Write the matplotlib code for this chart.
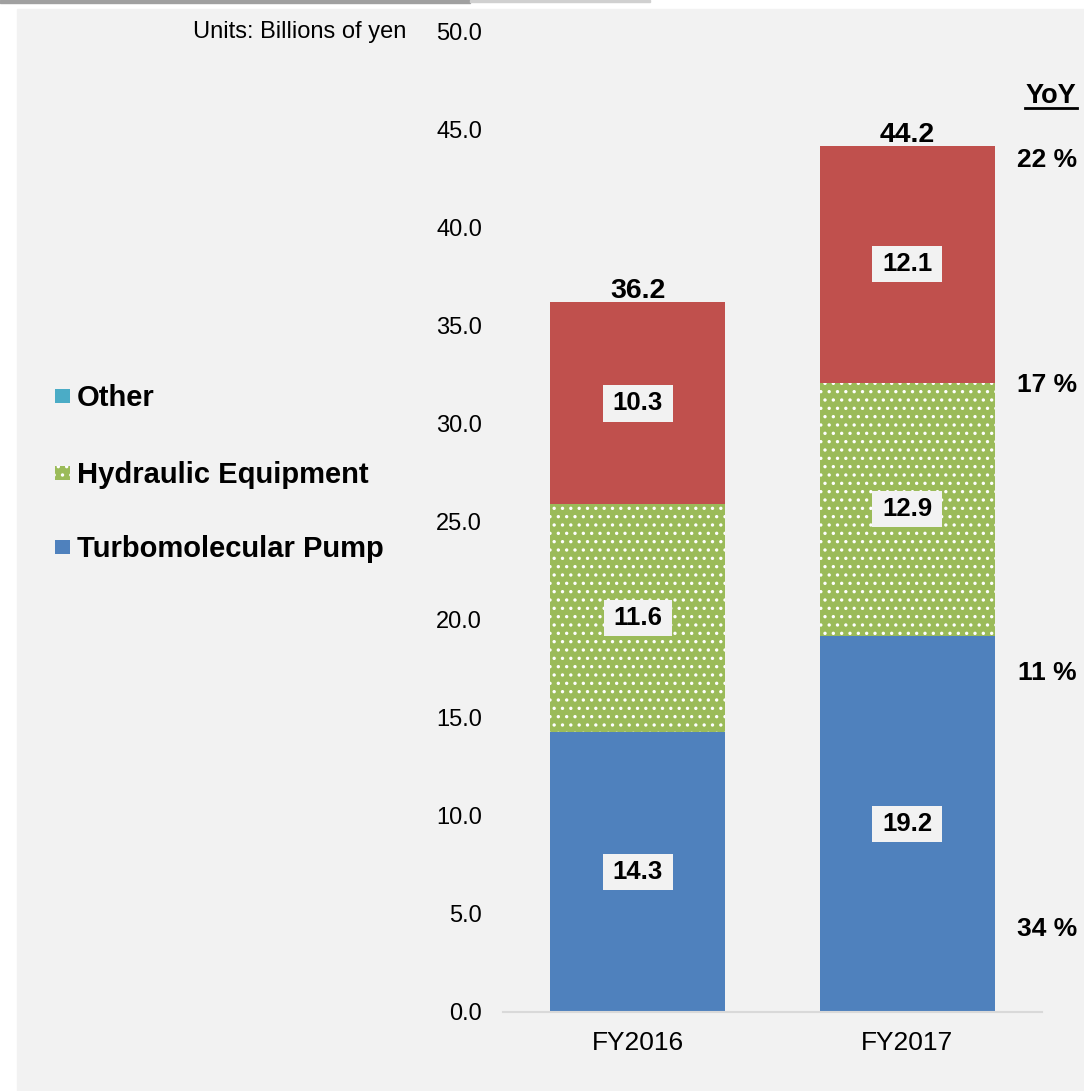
import matplotlib.pyplot as plt
from matplotlib.patches import Rectangle
from matplotlib.path import Path

plt.rcParams['font.family'] = ['Liberation Sans', 'DejaVu Sans']
plt.rcParams['hatch.linewidth'] = 1.2

years = ['FY2016', 'FY2017']
turbo = [14.3, 19.2]
hydraulic = [11.6, 12.9]
upper = [10.3, 12.1]
yoy = ['34 %', '11 %', '17 %', '22 %']
legend_names = ['Other', 'Hydraulic Equipment', 'Turbomolecular Pump']
yticks = [0, 5, 10, 15, 20, 25, 30, 35, 40, 45, 50]

BLUE = '#4f81bd'
GREEN = '#9bbb59'
RED = '#c0504d'
TEAL = '#4bacc6'
BG = '#f2f2f2'

W, H = 1084, 1091
fig = plt.figure(figsize=(W / 100, H / 100), dpi=100)
fig.patch.set_facecolor('white')


def fx(px):
    return px / W


def fy(py):
    return 1 - py / H


# grey panel + scan smudge at the very top
fig.patches.append(Rectangle((fx(17), 0), 1, fy(9), transform=fig.transFigure,
                             color=BG, zorder=-10))
fig.patches.append(Rectangle((0, fy(3)), fx(470), 3 / H, transform=fig.transFigure,
                             color='#a0a0a0', zorder=-9))
fig.patches.append(Rectangle((fx(470), fy(2)), fx(180), 2 / H, transform=fig.transFigure,
                             color='#d0d0d0', zorder=-9))

ax = fig.add_axes([fx(503), fy(1012), fx(1042) - fx(503), fy(32) - fy(1012)])
ax.set_facecolor('none')

x = range(len(years))
width = 0.648
ax.bar(x, turbo, width, color=BLUE)
ax.bar(x, hydraulic, width, bottom=turbo, color=GREEN, edgecolor='white',
       linewidth=0, hatch='..')
bottom2 = [a + b for a, b in zip(turbo, hydraulic)]
ax.bar(x, upper, width, bottom=bottom2, color=RED)


def wide_box(x0, y0, w, h, mutation_size):
    px = 0.38 * mutation_size
    py = 0.24 * mutation_size
    return Path([(x0 - px, y0 - py), (x0 + w + px, y0 - py),
                 (x0 + w + px, y0 + h + py), (x0 - px, y0 + h + py),
                 (x0 - px, y0 - py)], closed=True)


for i in x:
    segs = [(0, turbo[i]), (turbo[i], hydraulic[i]), (bottom2[i], upper[i])]
    for b, v in segs:
        ax.text(i, b + v / 2, f'{v:.1f}', ha='center', va='center', fontsize=18.5,
                fontweight='bold',
                bbox=dict(boxstyle=wide_box, fc=BG, ec='none'))
    total = turbo[i] + hydraulic[i] + upper[i]
    ax.annotate(f'{total:.1f}', (i, total), xytext=(0, 3), textcoords='offset points',
                ha='center', va='baseline', fontsize=20.5, fontweight='bold')

ax.set_xlim(-0.5, 1.5)
ax.set_ylim(0, 50)
ax.set_yticks(yticks)
ax.set_yticklabels([f'{t:.1f}' for t in yticks], fontsize=17)
ax.set_xticks(list(x))
ax.set_xticklabels(years, fontsize=19)
ax.tick_params(axis='y', length=0, pad=15)
ax.tick_params(axis='x', length=0, pad=14)
for s in ['top', 'right', 'left']:
    ax.spines[s].set_visible(False)
ax.spines['bottom'].set_color('#d9d9d9')
ax.spines['bottom'].set_linewidth(1.5)

fig.text(fx(406), fy(32), 'Units: Billions of yen', ha='right', va='center', fontsize=17)

# legend
legend_y = [406, 483, 557]
legend_colors = [TEAL, GREEN, BLUE]
for name, c, yb in zip(legend_names, legend_colors, legend_y):
    hatch = '..' if c == GREEN else None
    fig.patches.append(Rectangle((fx(55), fy(yb - 3)), fx(15), 14 / H,
                                 transform=fig.transFigure, facecolor=c,
                                 edgecolor='white', linewidth=0, hatch=hatch))
    fig.text(fx(77), fy(yb), name, ha='left', va='baseline', fontsize=21,
             fontweight='bold')

# YoY column
fig.text(fx(1051), fy(103), 'YoY', ha='center', va='baseline', fontsize=19.5,
         fontweight='bold')
fig.lines.append(plt.Line2D([fx(1025), fx(1077)], [fy(108), fy(108)],
                            transform=fig.transFigure, color='black', linewidth=2))
for txt, yb in zip(yoy, [936, 680, 392, 167]):
    fig.text(fx(1077), fy(yb), txt, ha='right', va='baseline', fontsize=19,
             fontweight='bold')

fig.savefig('out.png', dpi=100, facecolor=fig.get_facecolor())
